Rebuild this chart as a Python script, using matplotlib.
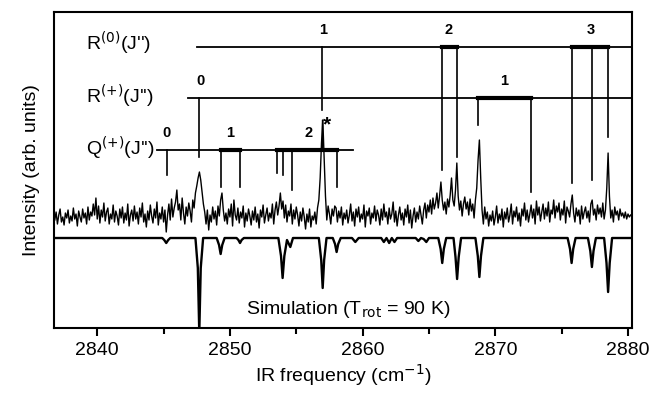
import numpy as np
import matplotlib
matplotlib.use('Agg')
import matplotlib.pyplot as plt

plt.rcParams['font.family'] = ['Liberation Sans', 'DejaVu Sans']

# experimental IR trace, sampled every 0.1 cm-1 from 2836.8 to 2880.2 (heights in arb. units)
exp_int = [
    108, 116, 104, 113, 119, 106, 111, 103, 115, 110,  # 2836.8
    118, 105, 112, 107, 120, 109, 114, 102, 117, 111,  # 2837.8
    106, 119, 110, 115, 104, 121, 108, 116, 112, 124,  # 2838.8
    113, 130, 109, 122, 105, 118, 111, 125, 107, 116,  # 2839.8
    120, 104, 114, 109, 123, 106, 117, 112, 103, 119,  # 2840.8
    110, 121, 105, 115, 108, 124, 102, 113, 118, 107,  # 2841.8
    122, 109, 116, 104, 120, 111, 125, 106, 114, 101,  # 2842.8
    117, 108, 123, 112, 105, 119, 110, 126, 103, 115,  # 2843.8
    109, 121, 106, 118, 96, 113, 124, 108, 129, 111,   # 2844.8
    120, 126, 138, 118, 124, 108, 130, 115, 104, 121,  # 2845.8
    112, 125, 117, 106, 128, 120, 135, 142, 150, 156,  # 2846.8
    148, 136, 124, 116, 104, 118, 98, 113, 106, 121,   # 2847.8
    109, 117, 103, 122, 112, 128, 135, 118, 107, 115,  # 2848.8
    104, 119, 111, 124, 102, 128, 113, 108, 120, 105,  # 2849.8
    116, 110, 122, 101, 115, 107, 119, 112, 103, 117,  # 2850.8
    108, 121, 106, 114, 100, 118, 111, 123, 105, 113,  # 2851.8
    120, 107, 115, 110, 124, 104, 118, 126, 113, 122,  # 2852.8
    135, 119, 127, 110, 123, 106, 117, 112, 124, 104,  # 2853.8
    118, 109, 121, 113, 102, 116, 107, 120, 111, 99,   # 2854.8
    114, 106, 119, 101, 112, 108, 116, 104, 120, 128,  # 2855.8
    150, 185, 208, 170, 132, 108, 122, 114, 104, 119,  # 2856.8
    112, 122, 120, 106, 117, 110, 121, 103, 115, 109,  # 2857.8
    118, 105, 113, 124, 107, 116, 102, 119, 111, 121,  # 2858.8
    106, 114, 109, 123, 101, 117, 112, 120, 104, 115,  # 2859.8
    110, 122, 107, 118, 113, 103, 119, 108, 124, 111,  # 2860.8
    116, 104, 120, 109, 114, 126, 106, 117, 102, 113,  # 2861.8
    121, 108, 115, 103, 119, 111, 123, 105, 118, 100,  # 2862.8
    112, 120, 106, 116, 109, 122, 113, 104, 118, 125,  # 2863.8
    110, 123, 116, 128, 114, 130, 119, 125, 135, 120,  # 2864.8
    132, 146, 128, 118, 126, 114, 129, 121, 133, 150,  # 2865.8
    128, 122, 138, 165, 132, 118, 127, 112, 124, 131,  # 2866.8
    119, 126, 113, 129, 117, 124, 110, 128, 140, 168,  # 2867.8
    188, 150, 118, 104, 121, 109, 116, 102, 113, 107,  # 2868.8
    117, 103, 111, 122, 105, 114, 108, 119, 101, 116,  # 2869.8
    109, 120, 106, 113, 124, 104, 117, 111, 121, 107,  # 2870.8
    115, 102, 119, 112, 125, 108, 118, 106, 114, 123,  # 2871.8
    110, 119, 104, 127, 113, 121, 107, 116, 124, 109,  # 2872.8
    120, 112, 126, 106, 118, 114, 128, 110, 122, 116,  # 2873.8
    125, 108, 119, 113, 127, 105, 121, 117, 111, 124,  # 2874.8
    133, 115, 106, 120, 112, 118, 104, 122, 109, 116,  # 2875.8
    121, 110, 117, 106, 124, 128, 113, 119, 108, 123,  # 2876.8
    114, 120, 111, 125, 109, 118, 140, 175, 132, 110,  # 2877.8
    118, 106, 121, 113, 117, 108, 119, 112, 115, 110,  # 2878.8
    116, 109, 114, 111, 113,                           # 2879.8
]
exp_freq = np.linspace(2836.8, 2880.2, len(exp_int))

# simulated spectrum (plotted downward)
sim_freq = [2836.8,
            2844.9, 2845.05, 2845.2, 2845.35, 2845.5,
            2847.4, 2847.58, 2847.69, 2847.8, 2847.98,
            2849.0, 2849.18, 2849.3, 2849.42, 2849.6,
            2850.5, 2850.64, 2850.76, 2850.88, 2851.05,
            2853.65, 2853.85, 2853.97, 2854.1, 2854.3, 2854.55, 2854.75,
            2856.7, 2856.88, 2856.99, 2857.1, 2857.28,
            2857.75, 2857.92, 2858.04, 2858.16, 2858.35,
            2859.2, 2859.45, 2859.7,
            2861.4, 2861.6, 2861.8, 2862.0, 2862.2, 2862.4, 2862.6,
            2864.0, 2864.2, 2864.4, 2864.6, 2864.8, 2865.0,
            2865.7, 2865.88, 2866.0, 2866.12, 2866.3,
            2866.85, 2867.0, 2867.12, 2867.24, 2867.42,
            2868.5, 2868.68, 2868.8, 2868.92, 2869.1,
            2875.45, 2875.63, 2875.75, 2875.87, 2876.05,
            2876.98, 2877.16, 2877.28, 2877.4, 2877.58,
            2878.2, 2878.38, 2878.5, 2878.62, 2878.8,
            2880.3]
sim_int = [90,
           90, 88, 85, 88, 90,
           90, 60, -5, 60, 90,
           90, 83, 74, 83, 90,
           90, 88, 85, 88, 90,
           90, 72, 50, 72, 88, 81, 90,
           90, 68, 40, 68, 90,
           90, 84, 76, 84, 90,
           90, 86, 90,
           90, 86, 90, 85, 90, 86, 90,
           90, 87, 90, 89, 86, 90,
           90, 79, 65, 79, 90,
           90, 71, 49, 71, 90,
           90, 72, 51, 72, 90,
           90, 79, 65, 79, 90,
           90, 77, 61, 77, 90,
           90, 65, 36, 65, 90,
           90]

# assignment ladders: level height, start of level line, end of level line
ladder_names = ["R$^{(0)}$(J'')", "R$^{(+)}$(J'')", "Q$^{(+)}$(J'')"]
ladder_level = [281, 230, 178]
ladder_start = [2847.54, 2846.86, 2844.48]
ladder_end = [2880.3, 2880.3, 2859.27]
ladder_name_y = [285, 232, 180]

# sticks: (ladder index, frequency, lower end)
stick_ladder = [0, 0, 0, 0, 0, 0, 1, 1, 1, 2, 2, 2, 2, 2, 2, 2]
stick_freq = [2856.96, 2865.96, 2867.14, 2875.8, 2877.25, 2878.5,
              2847.69, 2868.72, 2872.7,
              2845.23, 2849.33, 2850.76, 2853.52, 2853.97, 2854.65, 2858.04]
stick_low = [218, 158, 171, 145, 148, 191,
             171, 203, 136,
             153, 141, 141, 155, 153, 138, 141]

# J'' groups: thick bars and labels
group_ladder = [0, 0, 0, 1, 1, 2, 2, 2]
group_from = [2856.96, 2865.96, 2875.8, 2847.69, 2868.72, 2845.23, 2849.33, 2853.52]
group_to = [2856.96, 2867.14, 2878.5, 2847.69, 2872.7, 2845.23, 2850.76, 2858.04]
group_label = ['1', '2', '3', '0', '1', '0', '1', '2']
group_label_x = [2857.0, 2866.5, 2877.2, 2847.8, 2870.7, 2845.25, 2850.0, 2855.9]

fig = plt.figure(figsize=(6.52, 3.94), dpi=100)
ax = fig.add_axes([0.0828, 0.1675, 0.8865, 0.802])

ax.plot(exp_freq, exp_int, color='black', lw=1.0)
ax.plot(sim_freq, sim_int, color='black', lw=1.7)

for i in range(len(ladder_names)):
    ax.plot([ladder_start[i], ladder_end[i]], [ladder_level[i]] * 2, color='black', lw=1.3)
    ax.text(2839.15, ladder_name_y[i], ladder_names[i], fontsize=14, ha='left', va='center')

for k in range(len(stick_freq)):
    lev = ladder_level[stick_ladder[k]]
    ax.plot([stick_freq[k]] * 2, [lev, stick_low[k]], color='black', lw=1.2)

for g in range(len(group_label)):
    lev = ladder_level[group_ladder[g]]
    if group_to[g] > group_from[g]:
        ax.plot([group_from[g], group_to[g]], [lev, lev], color='black', lw=3)
    ax.text(group_label_x[g], lev + 17, group_label[g], fontsize=10.5, ha='center', va='center',
            fontweight='bold')

# peak marked by star, its top drawn as a thin line
ax.plot([2856.96, 2856.96], [208, 178], color='black', lw=1.0)
ax.text(2857.3, 203, '*', fontsize=15, ha='center', va='center', fontweight='bold')

ax.text(2851.2, 19, 'Simulation (T$_{\\rm rot}$ = 90 K)', fontsize=14, ha='left', va='center')

ax.set_xlim(2836.74, 2880.3)
ax.set_ylim(0, 316)
ax.set_xticks([2840, 2850, 2860, 2870, 2880])
ax.set_xticks([2845, 2855, 2865, 2875], minor=True)
ax.set_yticks([])
ax.tick_params(axis='x', which='major', direction='out', length=6, width=1.5, labelsize=14, pad=4)
ax.tick_params(axis='x', which='minor', direction='out', length=4, width=1.5)
for s in ax.spines.values():
    s.set_linewidth(1.5)
ax.set_xlabel('IR frequency (cm$^{-1}$)', fontsize=14, labelpad=2)
ax.set_ylabel('Intensity (arb. units)', fontsize=14, labelpad=10)

plt.savefig('out.png', dpi=100)
